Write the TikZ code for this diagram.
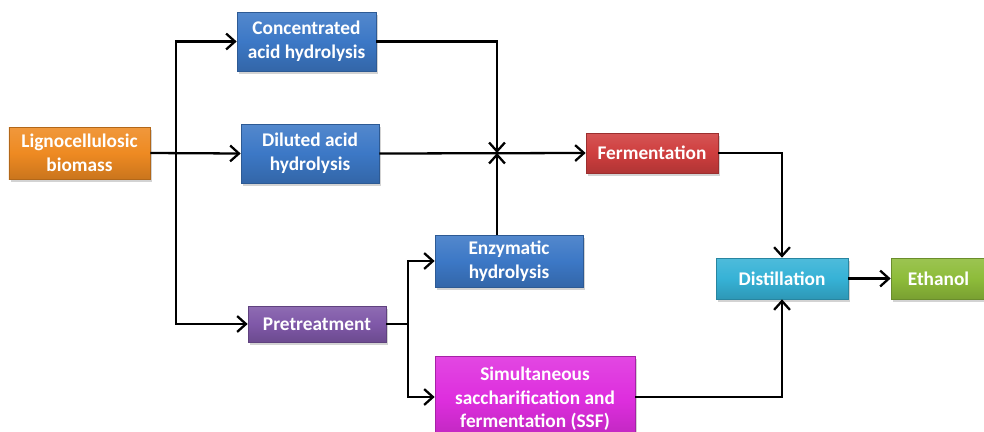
\documentclass[tikz,border=0pt]{standalone}
\usepackage{fontspec}
\setmainfont{Carlito}
\usetikzlibrary{arrows.meta,shadows}

\definecolor{bioOrange}{HTML}{EE8A22}
\definecolor{hydBlue}{HTML}{3C78C6}
\definecolor{fermRed}{HTML}{CF3E3E}
\definecolor{preViolet}{HTML}{7F58A8}
\definecolor{ssfMagenta}{HTML}{DE2EDE}
\definecolor{distCyan}{HTML}{36B2D6}
\definecolor{ethGreen}{HTML}{8EBC3A}

\begin{document}
\begin{tikzpicture}[
  box/.style={rectangle, draw=#1!75!black, line width=0.4pt,
    top color=#1!88!white, bottom color=#1!85!black, middle color=#1,
    drop shadow={shadow xshift=1pt, shadow yshift=-1.5pt, opacity=0.35},
    text=white, align=center, inner sep=2pt,
    font=\fontsize{11}{13.4}\selectfont\bfseries},
  link/.style={line width=1.3pt, draw=black},
  arrow/.style={link, -{Straight Barb[length=5pt, width=9pt, line width=1.3pt]}}
]

  \useasboundingbox (0,0) rectangle (19.68,-8.62);

  % Raw material and the three hydrolysis routes
  \node[box=bioOrange, minimum width=2.82cm, minimum height=1.04cm] (bio) at (1.59,-3.06) {Lignocellulosic\\biomass};
  \node[box=hydBlue, minimum width=2.78cm, minimum height=1.18cm] (conc) at (6.13,-0.83) {Concentrated\\acid hydrolysis};
  \node[box=hydBlue, minimum width=2.76cm, minimum height=1.18cm] (dil) at (6.20,-3.07) {Diluted acid\\hydrolysis};
  \node[box=preViolet, minimum width=2.76cm, minimum height=0.72cm] (pre) at (6.34,-6.48) {Pretreatment};
  \node[box=hydBlue, minimum width=2.96cm, minimum height=1.04cm] (enz) at (10.18,-5.22) {Enzymatic\\hydrolysis};
  \node[box=ssfMagenta, minimum width=4.00cm, minimum height=1.70cm] (ssf) at (10.70,-7.98) {Simultaneous\\saccharification and\\fermentation (SSF)};

  % Downstream steps
  \node[box=fermRed, minimum width=2.64cm, minimum height=0.80cm] (ferm) at (13.04,-3.06) {Fermentation};
  \node[box=distCyan, minimum width=2.64cm, minimum height=0.82cm] (dist) at (15.64,-5.57) {Distillation};
  \node[box=ethGreen, minimum width=1.90cm, minimum height=0.82cm] (eth) at (18.77,-5.57) {Ethanol};

  % Branch and merge points
  \coordinate (split) at (3.52,-3.06);
  \coordinate (mix) at (9.94,-3.06);
  \coordinate (fork) at (8.16,-6.48);
  \coordinate (ssfout) at (12.70,-7.94);

  % Connections
  \draw[arrow] (bio.east) -- (dil.west);
  \draw[arrow] (split) |- (conc.west);
  \draw[arrow] (split) |- (pre.west);

  \draw[arrow] (conc.east) -| (mix);
  \draw[arrow] (enz.north -| mix) -- (mix);
  \draw[arrow] (dil.east) -- (ferm.west);

  \draw[link] (pre.east) -- (fork);
  \draw[arrow] (fork) |- (enz.west);
  \draw[arrow] (fork) |- (ssfout -| ssf.west);

  \draw[arrow] (ferm.east) -| (dist.north);
  \draw[arrow] (ssfout) -| (dist.south);
  \draw[arrow] (dist.east) -- (eth.west);

\end{tikzpicture}
\end{document}
